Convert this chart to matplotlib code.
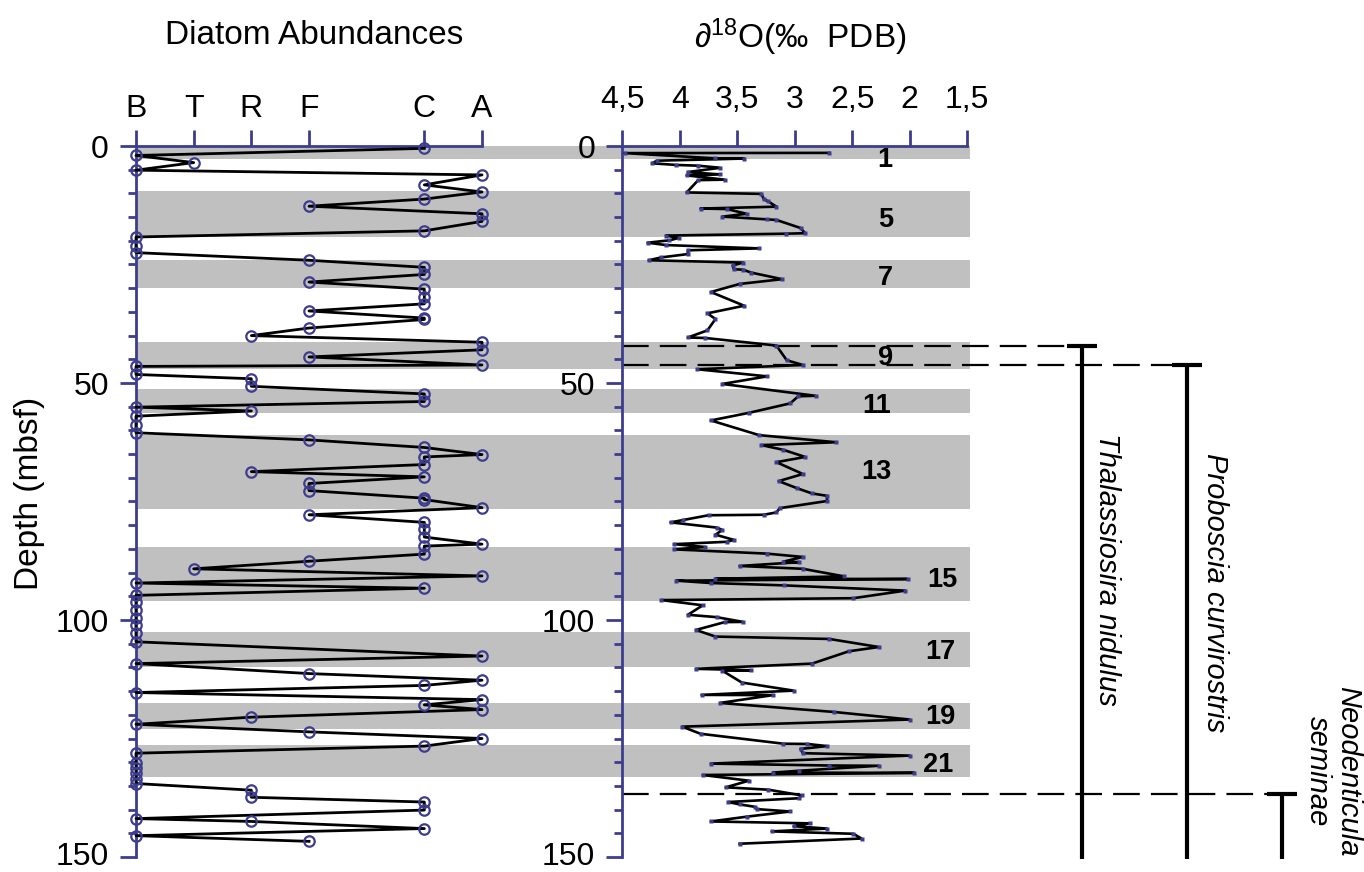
import matplotlib
matplotlib.use("Agg")
import matplotlib.pyplot as plt
from matplotlib.ticker import MultipleLocator
from matplotlib.transforms import ScaledTranslation

plt.rcParams['font.family'] = ['Liberation Sans', 'DejaVu Sans']
plt.rcParams['mathtext.fontset'] = 'custom'
plt.rcParams['mathtext.rm'] = 'Liberation Sans'
plt.rcParams['mathtext.it'] = 'Liberation Sans:italic'

navy = '#3d3d8f'
grey = '#c0c0c0'

# abundance classes on the left panel
abund_classes = ['B', 'T', 'R', 'F', 'C', 'A']
abund_pos = [0, 1, 2, 3, 5, 6]

diatom_depth = [0.5, 2.0, 3.5, 5.1, 6.1, 8.2, 9.7, 11.2, 12.7, 14.3, 15.9, 17.9,
                19.2, 21.0, 22.5, 24.1, 25.6, 27.1, 28.7, 30.2, 31.8, 33.3, 34.8,
                36.3, 36.6, 38.4, 40.0, 41.4, 43.0, 44.5, 46.2, 46.5, 48.2, 49.1,
                50.7, 52.3, 53.9, 55.1, 55.9, 57.0, 58.9, 60.5, 62.0, 63.6, 65.1,
                65.6, 67.2, 68.7, 69.8, 71.2, 72.7, 74.3, 74.6, 76.3, 77.8, 79.4,
                80.9, 82.5, 84.0, 84.4, 86.1, 87.6, 89.2, 90.7, 92.2, 93.3, 94.8,
                96.3, 97.9, 99.5, 101.1, 102.8, 104.6, 107.6, 109.2, 111.3, 112.7,
                113.8, 115.3, 116.8, 117.9, 118.9, 120.5, 122.0, 123.6, 125.0,
                126.6, 128.1, 130.1, 131.2, 132.2, 133.6, 134.5, 135.9, 137.4,
                138.4, 140.1, 141.9, 142.5, 144.0, 145.5, 146.7]
diatom_class = ['C', 'B', 'T', 'B', 'A', 'C', 'A', 'C', 'F', 'A', 'A', 'C',
                'B', 'B', 'B', 'F', 'C', 'C', 'F', 'C', 'C', 'C', 'F',
                'C', 'C', 'F', 'R', 'A', 'A', 'F', 'A', 'B', 'B', 'R',
                'R', 'C', 'C', 'B', 'R', 'B', 'B', 'B', 'F', 'C', 'A',
                'C', 'C', 'R', 'C', 'F', 'F', 'C', 'C', 'A', 'F', 'C',
                'C', 'C', 'A', 'C', 'C', 'F', 'T', 'A', 'B', 'C', 'B',
                'B', 'B', 'B', 'B', 'B', 'B', 'A', 'B', 'F', 'A',
                'C', 'B', 'A', 'C', 'A', 'R', 'B', 'F', 'A',
                'C', 'B', 'B', 'B', 'B', 'B', 'B', 'R', 'R',
                'C', 'C', 'B', 'R', 'C', 'B', 'F']

# oxygen isotope record (per mil PDB)
iso_depth = [1.45, 1.5, 2.6, 2.65, 3.1, 3.65, 4.0, 4.15, 4.6, 5.5, 6.0, 6.2, 7.1,
             7.2, 9.8, 10.1, 11.2, 11.7, 12.8, 13.2, 13.3, 14.3, 14.9, 15.5,
             15.6, 17.3, 18.4, 18.5, 18.9, 19.4, 19.9, 20.4, 20.9, 21.6, 22.0,
             22.8, 23.5, 24.1, 24.6, 25.2, 26.0, 26.1, 26.7, 28.1, 29.1, 30.8,
             33.7, 35.3, 36.5, 38.9, 40.4, 40.5, 42.1, 45.2, 46.2, 47.1, 48.6,
             50.2, 52.7, 52.8, 54.3, 56.3, 57.9, 61.0, 62.5, 63.1, 64.1, 65.6,
             66.7, 69.2, 70.7, 72.2, 73.3, 73.8, 74.9, 76.4, 77.3, 77.8, 77.9,
             78.9, 79.4, 80.5, 81.0, 82.0, 83.1, 83.5, 84.0, 84.6, 85.1, 86.0,
             86.7, 87.7, 87.8, 88.6, 89.2, 90.8, 91.3, 91.35, 91.7, 92.2, 92.7,
             93.8, 95.4, 95.8, 96.9, 98.9, 99.4, 100.4, 100.45, 102.1, 103.5,
             104.0, 105.7, 106.6, 109.2, 110.3, 110.6, 110.7, 113.2, 114.9,
             115.8, 115.85, 117.5, 119.4, 121.0, 122.5, 124.0, 126.1, 126.15,
             126.6, 127.2, 128.1, 128.6, 130.3, 130.7, 130.75, 131.8, 132.2,
             132.25, 132.7, 133.9, 135.3, 135.8, 137.0, 137.6, 138.4, 138.9,
             139.4, 139.9, 140.4, 141.5, 142.5, 142.9, 143.5, 144.0, 144.6,
             145.1, 146.1, 147.2]
iso_d18o = [2.70, 4.48, 3.69, 3.44, 4.20, 4.24, 4.03, 3.84, 3.65, 3.93, 3.65, 3.94,
            3.61, 3.84, 3.94, 3.29, 3.27, 3.23, 3.16, 3.82, 3.59, 3.42, 3.63,
            3.24, 3.16, 2.95, 2.91, 3.08, 4.12, 4.01, 4.09, 4.28, 4.12, 3.31,
            3.93, 3.93, 4.16, 4.27, 3.45, 3.54, 3.53, 3.45, 3.38, 3.11, 3.48,
            3.73, 3.44, 3.76, 3.69, 3.76, 3.93, 3.78, 3.16, 3.07, 2.93, 3.85,
            3.24, 3.63, 2.82, 2.97, 3.04, 3.40, 3.73, 3.31, 2.64, 3.29, 3.10,
            2.91, 3.16, 2.93, 3.14, 2.98, 2.85, 2.72, 2.72, 3.13, 3.16, 3.27,
            3.75, 3.97, 4.08, 3.68, 3.63, 3.69, 3.53, 3.59, 4.05, 3.78, 4.05,
            3.24, 2.93, 3.10, 2.96, 3.48, 2.93, 2.57, 3.69, 2.02, 4.03, 3.73,
            3.09, 2.04, 2.49, 4.16, 3.80, 3.93, 3.68, 3.45, 3.61, 3.86, 3.69,
            2.70, 2.27, 2.53, 2.85, 3.86, 3.38, 3.63, 3.46, 3.01, 3.81, 3.19,
            3.65, 2.66, 2.00, 3.98, 3.82, 3.10, 2.89, 2.72, 2.95, 2.93, 2.00,
            3.73, 2.70, 2.27, 2.96, 3.19, 1.96, 3.80, 3.40, 3.60, 3.23, 2.94,
            2.96, 3.58, 3.48, 3.35, 3.33, 3.04, 3.42, 3.73, 2.87, 3.01, 2.72,
            3.20, 2.49, 2.42, 3.48]

# glacial/interglacial stages (grey bands) and their numbers
stage_top = [0.0, 9.5, 24.0, 41.4, 51.2, 60.9, 84.7, 102.6, 117.6, 126.4]
stage_base = [2.7, 19.1, 29.9, 47.1, 56.4, 76.6, 96.0, 110.0, 122.9, 133.1]
stage_names = ['1', '5', '7', '9', '11', '13', '15', '17', '19', '21']
stage_label_x = [2.22, 2.21, 2.21, 2.21, 2.29, 2.29, 1.72, 1.73, 1.73, 1.75]
stage_label_depth = [2.9, 15.6, 27.8, 44.7, 54.8, 68.7, 91.5, 106.8, 120.5, 130.5]

# diatom datum ranges
species = ['Thalassiosira nidulus', 'Proboscia curvirostris', 'Neodenticula\nseminae']
species_top = [42.1, 46.2, 136.8]
species_base = [150.4, 150.4, 150.4]

W, H = 1364, 872
fig = plt.figure(figsize=(W / 100, H / 100), dpi=100)


def fx(px):
    return px / W


def fy(py):
    return 1 - py / H


y_bottom = fy(857)
y_height = (857 - 146) / H

# grey bands behind both panels
ax_bg = fig.add_axes([fx(136), y_bottom, fx(970) - fx(136), y_height], zorder=0)
ax_bg.set_ylim(150, 0)
ax_bg.set_xlim(0, 1)
ax_bg.axis('off')
for t, b in zip(stage_top, stage_base):
    ax_bg.axhspan(t, b, color=grey, lw=0)


def style_axis(ax, xpad):
    ax.patch.set_visible(False)
    ax.set_ylim(150, 0)
    for s in ['right', 'bottom']:
        ax.spines[s].set_visible(False)
    for s in ['left', 'top']:
        ax.spines[s].set_color(navy)
        ax.spines[s].set_linewidth(2)
    ax.xaxis.tick_top()
    ax.set_yticks([0, 50, 100, 150])
    ax.yaxis.set_minor_locator(MultipleLocator(5))
    ax.tick_params(axis='both', which='major', direction='out', length=11.5,
                   width=2, color=navy, labelsize=23)
    ax.tick_params(axis='y', which='minor', direction='out', length=6,
                   width=2, color=navy)
    ax.tick_params(axis='y', which='major', pad=8)
    ax.tick_params(axis='x', which='major', pad=xpad)
    # keep the bottom label inside the canvas
    last = ax.yaxis.get_major_ticks()[-1].label1
    last.set_transform(last.get_transform() + ScaledTranslation(0, 0.04, fig.dpi_scale_trans))


# left panel: diatom abundances
ax1 = fig.add_axes([fx(136), y_bottom, fx(482) - fx(136), y_height], zorder=2)
style_axis(ax1, 4)
ax1.set_xlim(0, 6)
ax1.set_xticks(abund_pos)
ax1.set_xticklabels(abund_classes)
class_x = dict(zip(abund_classes, abund_pos))
dx = [class_x[c] for c in diatom_class]
ax1.plot(dx, diatom_depth, color='black', lw=2, clip_on=False, zorder=3)
ax1.plot(dx, diatom_depth, ls='none', marker='o', ms=7.5, mfc='none', mec=navy,
         mew=1.6, clip_on=False, zorder=4)

# right panel: oxygen isotopes
ax2 = fig.add_axes([fx(622.3), y_bottom, fx(967.3) - fx(622.3), y_height], zorder=2)
style_axis(ax2, 11)
ax2.set_xlim(4.5, 1.5)
iso_ticks = [4.5, 4.0, 3.5, 3.0, 2.5, 2.0, 1.5]
ax2.set_xticks(iso_ticks)
ax2.set_xticklabels(['4,5', '4', '3,5', '3', '2,5', '2', '1,5'])
ax2.plot(iso_d18o, iso_depth, color='black', lw=1.9, zorder=3)
ax2.plot(iso_d18o, iso_depth, ls='none', marker='s', ms=2.4, color=navy, mec='none', zorder=4)
for name, xv, dv in zip(stage_names, stage_label_x, stage_label_depth):
    ax2.text(xv, dv, name, fontsize=19.5, fontweight='bold', ha='center', va='center', zorder=5)

# datum ranges to the right
ax3 = fig.add_axes([fx(622.3), y_bottom, 1 - fx(622.3), y_height], zorder=1)
ax3.set_xlim(622.3, W)
ax3.set_ylim(150, 0)
ax3.axis('off')
bar_x = [1082.3, 1186.7, 1282.0]
text_x = [1107, 1215, 1333]
text_depth = [89.4, 94.2, 131.9]
for name, top, base, bx, tx, td in zip(species, species_top, species_base, bar_x, text_x, text_depth):
    ax3.plot([622.3, bx - 15], [top, top], color='black', lw=1.6, dashes=(12, 5), clip_on=False)
    ax3.plot([bx, bx], [top, base], color='black', lw=3, solid_capstyle='butt', clip_on=False)
    ax3.plot([bx - 15, bx + 15], [top, top], color='black', lw=3, solid_capstyle='butt', clip_on=False)
    ax3.text(tx, td, name, rotation=-90, fontsize=21, style='italic', ha='center', va='center',
             multialignment='center', linespacing=1.1)

fig.text(fx(314), fy(35), 'Diatom Abundances', ha='center', va='center', fontsize=24)
fig.text(fx(800), fy(37), '∂$^{18}$O(‰  PDB)', ha='center', va='center', fontsize=24)
fig.text(fx(30), fy(493), 'Depth (mbsf)', rotation=90, ha='center', va='center', fontsize=24)

fig.savefig('out.png', dpi=100, facecolor='white')
